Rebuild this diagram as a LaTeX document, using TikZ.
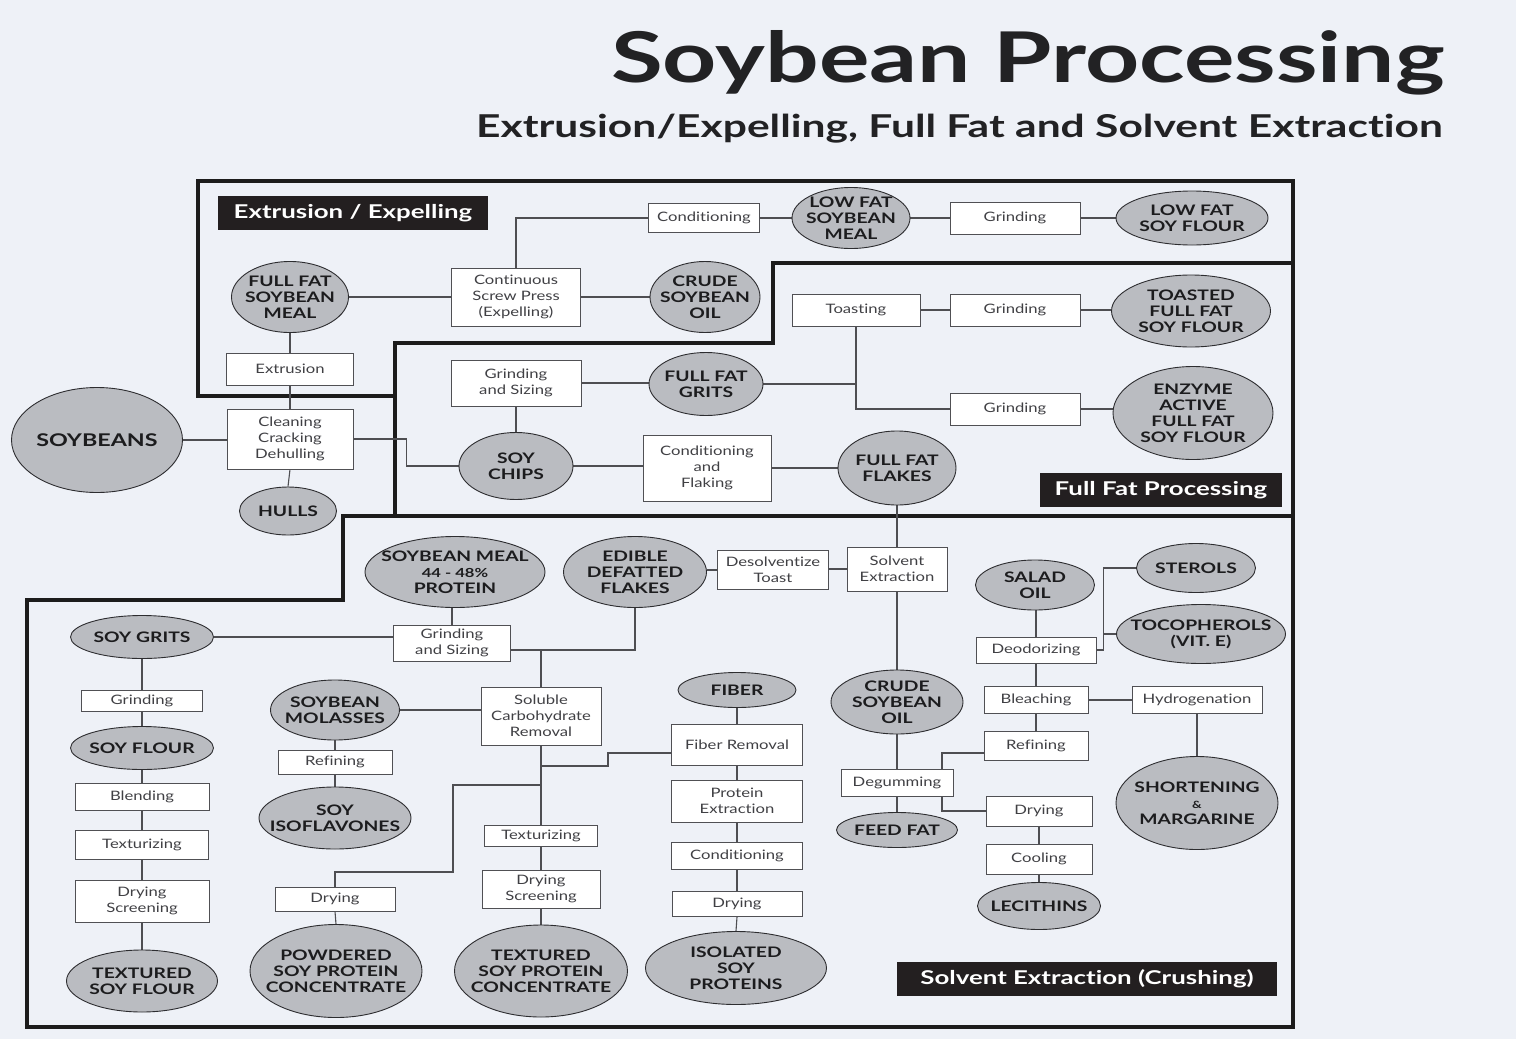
\documentclass[tikz,border=0pt]{standalone}
\usepackage{fontspec}
\setmainfont{Lato}[Ligatures=NoCommon]
\newfontfamily\ellfont{Lato}[FakeStretch=1.33,Ligatures=NoCommon]
\newfontfamily\lblfont{Lato}[FakeStretch=1.36,Ligatures=NoCommon]
\newfontfamily\boxfont{Lato}[FakeStretch=1.28,Ligatures=NoCommon]
\newfontfamily\titfont{Lato}[FakeStretch=1.35,Ligatures=NoCommon]
\usetikzlibrary{shapes.geometric}
\definecolor{bgc}{RGB}{238,241,247}
\definecolor{ellfill}{RGB}{186,188,193}
\definecolor{ellline}{RGB}{45,45,48}
\definecolor{elltext}{RGB}{28,28,30}
\definecolor{boxline}{RGB}{80,80,84}
\definecolor{boxtext}{RGB}{64,64,68}
\definecolor{wirec}{RGB}{78,78,82}
\definecolor{framec}{RGB}{28,28,28}
\definecolor{lblfill}{RGB}{35,31,32}
\definecolor{titc}{RGB}{34,34,36}
\pgfdeclarelayer{back}
\pgfdeclarelayer{wires}
\pgfsetlayers{back,wires,main}
\tikzset{
  ellshape/.style={ellipse, draw=ellline, fill=ellfill, line width=0.9pt, inner sep=0pt},
  elltxt/.style={font=\ellfont\bfseries\fontsize{14.5}{16}\selectfont, text=elltext, align=center, inner sep=0pt},
  boxshape/.style={rectangle, draw=boxline, fill=white, line width=0.9pt, inner sep=0pt},
  boxtxt/.style={font=\boxfont\fontsize{13}{16}\selectfont, text=boxtext, align=center, inner sep=0pt},
  lblshape/.style={rectangle, fill=lblfill, inner sep=0pt},
  lbltxt/.style={font=\lblfont\bfseries\fontsize{19}{22}\selectfont, text=white, inner sep=0pt},
  wire/.style={draw=wirec, line width=1.1pt},
  sectline/.style={draw=framec, line width=4pt, line join=miter}
}
\newcommand\mkEll[6]{%
  \node[ellshape, minimum width=#4pt, minimum height=#5pt] (#1) at (#2,#3) {};
  \node[elltxt] at (#1.center) {#6};}
\newcommand\mkBox[6]{%
  \node[boxshape, minimum width=#4pt, minimum height=#5pt] (#1) at (#2,#3) {};
  \node[boxtxt] at (#1.center) {#6};}
\newcommand\mkLbl[6]{%
  \node[lblshape, minimum width=#4pt, minimum height=#5pt] (#1) at (#2,#3) {};
  \node[lbltxt] at (#1.center) {#6};}
\begin{document}
\begin{tikzpicture}[x=1pt,y=-1pt]
\useasboundingbox (0,0) rectangle (1516,1039);
\begin{pgfonlayer}{back}
  \fill[bgc] (0,0) rectangle (1516,1039);
\end{pgfonlayer}

% titles
\node[anchor=base east, font=\titfont\bfseries\fontsize{70}{70}\selectfont, text=titc, inner sep=0pt] (title) at (1445,82) {Soybean Processing};
\node[anchor=base east, font=\titfont\bfseries\fontsize{31.5}{32}\selectfont, text=titc, inner sep=0pt] (subtitle) at (1443,137) {Extrusion/Expelling, Full Fat and Solvent Extraction};

% section labels
\mkLbl{lbA}{353}{213}{270}{34}{Extrusion / Expelling}
\mkLbl{lbB}{1161}{490}{242}{34}{Full Fat Processing}
\mkLbl{lbC}{1087}{979}{380}{34}{Solvent Extraction (Crushing)}

% Extrusion / Expelling
\mkEll{ffsm}{290}{297}{117}{71}{FULL FAT\\SOYBEAN\\MEAL}
\mkBox{csp}{516}{297}{129}{58}{Continuous\\Screw Press\\(Expelling)}
\mkEll{coil}{705}{297}{110}{71}{CRUDE\\SOYBEAN\\OIL}
\mkBox{cond}{704}{218}{111}{29}{Conditioning}
\mkEll{lfsm}{851}{218}{118}{61}{LOW FAT\\SOYBEAN\\MEAL}
\mkBox{grA}{1015}{218}{130}{32}{Grinding}
\mkEll{lfsf}{1192}{218}{152}{54}{LOW FAT\\SOY FLOUR}
\mkBox{extr}{290}{369}{127}{32}{Extrusion}
\mkBox{clean}{290}{439}{126}{60}{Cleaning\\Cracking\\Dehulling}
\node[ellshape, minimum width=171pt, minimum height=105pt] (soyb) at (97,440) {};
\node[elltxt, font=\ellfont\bfseries\fontsize{17.5}{18}\selectfont] at (soyb.center) {SOYBEANS};
\mkEll{hulls}{288}{511}{97}{48}{HULLS}

% Full Fat Processing
\mkBox{toast}{856}{310}{128}{32}{Toasting}
\mkBox{grB}{1015}{310}{130}{32}{Grinding}
\mkEll{tffsf}{1191}{311}{159}{72}{TOASTED\\FULL FAT\\SOY FLOUR}
\mkBox{grC}{1015}{409}{130}{32}{Grinding}
\mkEll{enz}{1193}{413}{160}{93}{ENZYME\\ACTIVE\\FULL FAT\\SOY FLOUR}
\mkBox{gsA}{516}{383}{130}{46}{Grinding\\and Sizing}
\mkEll{ffg}{706}{384}{114}{63}{FULL FAT\\GRITS}
\mkEll{chips}{516}{466}{114}{67}{SOY\\CHIPS}
\mkBox{cflk}{707}{468}{128}{66}{Conditioning\\and\\Flaking}
\mkEll{fff}{897}{468}{118}{74}{FULL FAT\\FLAKES}

% Solvent Extraction
\mkBox{solx}{897}{569}{100}{44}{Solvent\\Extraction}
\mkBox{desol}{773}{570}{111}{39}{Desolventize\\Toast}
\mkEll{edf}{635}{572}{143}{71}{EDIBLE\\DEFATTED\\FLAKES}
\node[ellshape, minimum width=180pt, minimum height=71pt] (smp) at (455,572) {};
\node[elltxt] at (smp.center) {SOYBEAN MEAL\\{\fontsize{12.5}{16}\selectfont 44 - 48\%}\\PROTEIN};
\mkBox{gsB}{452}{643}{117}{36}{Grinding\\and Sizing}
\mkEll{grits}{142}{637}{143}{43}{SOY GRITS}
\mkBox{grD}{142}{701}{121}{21}{Grinding}
\mkEll{sflour}{142}{748}{143}{43}{SOY FLOUR}
\mkBox{blend}{142}{797}{134}{27}{Blending}
\mkBox{textA}{142}{845}{133}{29}{Texturizing}
\mkBox{dsA}{142}{901}{134}{42}{Drying\\Screening}
\mkEll{tsf}{142}{981}{151}{62}{TEXTURED\\SOY FLOUR}

\mkEll{molas}{335}{710}{129}{60}{SOYBEAN\\MOLASSES}
\mkBox{refA}{335}{762}{114}{24}{Refining}
\mkEll{iso}{335}{818}{152}{62}{SOY\\ISOFLAVONES}
\mkBox{dryA}{335}{899}{120}{24}{Drying}
\mkEll{pspc}{336}{971}{172}{93}{POWDERED\\SOY PROTEIN\\CONCENTRATE}

\mkBox{scr}{541}{716}{120}{58}{Soluble\\Carbohydrate\\Removal}
\mkBox{textB}{541}{836}{113}{21}{Texturizing}
\mkBox{dsB}{541}{889}{118}{38}{Drying\\Screening}
\mkEll{tspc}{541}{971}{173}{92}{TEXTURED\\SOY PROTEIN\\CONCENTRATE}

\mkEll{fiber}{737}{690}{118}{35}{FIBER}
\mkBox{fibrem}{737}{745}{131}{41}{Fiber Removal}
\mkBox{protx}{737}{801}{131}{42}{Protein\\Extraction}
\mkBox{condB}{737}{856}{131}{27}{Conditioning}
\mkBox{dryB}{737}{904}{130}{25}{Drying}
\mkEll{isp}{736}{968}{181}{73}{ISOLATED\\SOY\\PROTEINS}

\mkEll{cso}{897}{702}{132}{64}{CRUDE\\SOYBEAN\\OIL}
\mkBox{degum}{897}{783}{112}{27}{Degumming}
\mkEll{feed}{897}{830}{121}{35}{FEED FAT}

\mkEll{salad}{1035}{585}{119}{50}{SALAD\\OIL}
\mkEll{ster}{1196}{568}{119}{49}{STEROLS}
\mkEll{toco}{1201}{634}{169}{59}{TOCOPHEROLS\\(VIT. E)}
\mkBox{deo}{1036}{650}{120}{26}{Deodorizing}
\mkBox{bleach}{1036}{700}{104}{27}{Bleaching}
\mkBox{hydro}{1197}{700}{130}{27}{Hydrogenation}
\mkBox{refB}{1036}{746}{104}{29}{Refining}
\mkBox{dryC}{1039}{811}{106}{30}{Drying}
\mkBox{cool}{1039}{859}{106}{30}{Cooling}
\mkEll{leci}{1039}{906}{123}{47}{LECITHINS}
\mkEll{short}{1197}{803}{162}{93}{SHORTENING\\{\fontsize{10}{16}\selectfont\&}\\MARGARINE}

\coordinate (jA) at (541,650);
\coordinate (jB) at (541,766);
\coordinate (jC) at (608,753);
\coordinate (jD) at (541,785);
\coordinate (jE) at (453,872);
\coordinate (dj) at (942,753);
\coordinate (dv) at (1103,634);

\begin{pgfonlayer}{wires}
  % section borders
  \draw[sectline] (198,181) -- (1293,181) -- (1293,263) -- (773,263) -- (773,343) -- (395,343) -- (395,396) -- (198,396) -- cycle;
  \draw[sectline] (395,343) -- (395,516) -- (1293,516) -- (1293,263);
  \draw[sectline] (395,516) -- (343,516) -- (343,600) -- (27,600) -- (27,1027) -- (1293,1027) -- (1293,516);

  % extrusion
  \draw[wire] (soyb.east) -- (soyb.east -| clean.west);
  \draw[wire] (clean.south) -- (hulls.north);
  \draw[wire] (clean.north) -- (extr.south);
  \draw[wire] (extr.north) -- (ffsm.south);
  \draw[wire] (ffsm.east) -- (csp.west);
  \draw[wire] (csp.east) -- (coil.west);
  \draw[wire] (csp.north) |- (cond.west);
  \draw[wire] (cond.east) -- (lfsm.west);
  \draw[wire] (lfsm.east) -- (grA.west);
  \draw[wire] (grA.east) -- (lfsf.west);

  % full fat
  \draw[wire] (clean.east) -- ++(53,0) |- (chips.west);
  \draw[wire] (chips.north) -- (gsA.south);
  \draw[wire] (gsA.east) -- (gsA.east -| ffg.west);
  \draw[wire] (ffg.east) -- (ffg.east -| toast.south);
  \draw[wire] (toast.south) |- (grC.west);
  \draw[wire] (toast.east) -- (grB.west);
  \draw[wire] (grB.east) -- (grB.east -| tffsf.west);
  \draw[wire] (grC.east) -- (grC.east -| enz.west);
  \draw[wire] (chips.east) -- (chips.east -| cflk.west);
  \draw[wire] (cflk.east) -- (cflk.east -| fff.west);
  \draw[wire] (fff.south) -- (solx.north);

  % solvent
  \draw[wire] (solx.west) -- (solx.west -| desol.east);
  \draw[wire] (desol.west) -- (desol.west -| edf.east);
  \draw[wire] (solx.south) -- (cso.north);
  \draw[wire] (cso.south) -- (degum.north);
  \draw[wire] (degum.south) -- (feed.north);
  \draw[wire] (refB.west |- dj) -- (dj) |- (dryC.west);
  \draw[wire] (refB.north) -- (bleach.south);
  \draw[wire] (bleach.north) -- (deo.south);
  \draw[wire] (deo.north) -- (deo.north |- salad.south);
  \draw[wire] (bleach.east) -- (hydro.west);
  \draw[wire] (hydro.south) -- (short.north);
  \draw[wire] (deo.east) -- ++(7,0) |- (ster.west);
  \draw[wire] (toco.west) -- (dv);
  \draw[wire] (dryC.south) -- (cool.north);
  \draw[wire] (cool.south) -- (leci.north);

  \draw[wire] (edf.south) |- (jA) -- (scr.north);
  \draw[wire] (gsB.east |- jA) -- (jA);
  \draw[wire] (smp.south -| gsB.north) -- (gsB.north);
  \draw[wire] (grits.east) -- (grits.east -| gsB.west);
  \draw[wire] (grits.south) -- (grD.north);
  \draw[wire] (grD.south) -- (sflour.north);
  \draw[wire] (sflour.south) -- (blend.north);
  \draw[wire] (blend.south) -- (textA.north);
  \draw[wire] (textA.south) -- (dsA.north);
  \draw[wire] (dsA.south) -- (tsf.north);
  \draw[wire] (molas.east) -- (molas.east -| scr.west);
  \draw[wire] (molas.south) -- (refA.north);
  \draw[wire] (refA.south) -- (iso.north);
  \draw[wire] (scr.south) -- (textB.north);
  \draw[wire] (textB.south) -- (dsB.north);
  \draw[wire] (dsB.south) -- (tspc.north);
  \draw[wire] (jB) -| (jC) -- (jC -| fibrem.west);
  \draw[wire] (jD) -| (jE) -| (dryA.north);
  \draw[wire] (dryA.south) -- (pspc.north);
  \draw[wire] (fiber.south) -- (fibrem.north);
  \draw[wire] (fibrem.south) -- (protx.north);
  \draw[wire] (protx.south) -- (condB.north);
  \draw[wire] (condB.south) -- (dryB.north);
  \draw[wire] (dryB.south) -- (isp.north);
\end{pgfonlayer}
\end{tikzpicture}
\end{document}
